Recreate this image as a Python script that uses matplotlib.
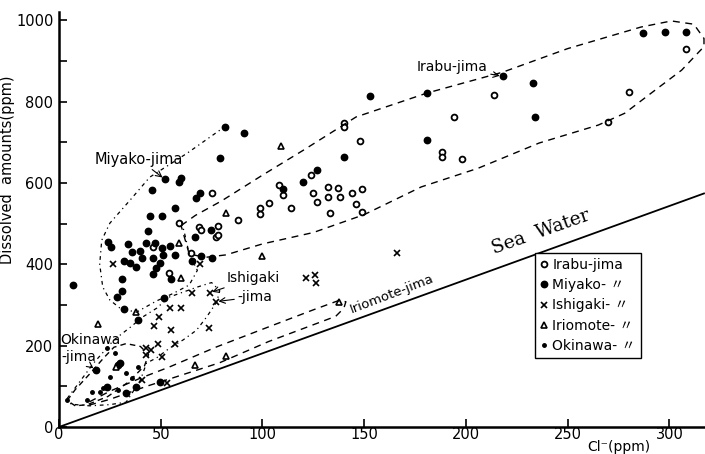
import numpy as np
import matplotlib.pyplot as plt
from matplotlib.lines import Line2D

# =========================
# Data: Cl- (ppm) vs dissolved amounts (ppm)
# =========================
irabu_cl = [75, 69, 70, 78, 77, 78, 88, 99, 99, 103, 108, 110, 114, 124, 125, 127, 132, 137,
            132, 138, 144, 146, 133, 140, 140, 148, 149, 149, 188, 188, 198, 194, 214, 270,
            280, 308, 59, 46, 54, 65]
irabu_td = [575, 491, 484, 494, 467, 472, 509, 538, 523, 550, 595, 570, 538, 619, 575, 553, 590, 587,
            565, 565, 575, 548, 525, 747, 737, 703, 585, 528, 676, 663, 658, 762, 816, 749,
            824, 929, 501, 442, 378, 427]

miyako_cl = [81.5, 91, 79, 52, 59, 60, 45.5, 67.5, 69.5, 57, 44.6, 50.5, 43.6, 24, 25.5, 34, 42.6,
             47, 50.5, 54.4, 36, 40, 41, 46, 51, 57, 32, 35, 38, 49.5, 31, 47.5, 46, 55, 31, 28.5,
             7, 51.5, 32, 39, 65.5, 70, 75, 67, 74.5, 110, 120, 127, 140, 153, 181, 218, 233, 234,
             181, 287, 298, 308, 18, 29, 23.5, 33, 38, 49.6, 30]
miyako_td = [737, 722, 661, 609, 602, 612, 582, 562, 576, 538, 518, 518, 481, 455, 442, 449, 452,
             452, 440, 445, 430, 432, 415, 415, 422, 422, 408, 403, 393, 403, 364, 391, 376, 364, 334, 319,
             350, 317, 290, 262, 408, 420, 415, 467, 484, 585, 602, 631, 663, 813, 821, 862, 845, 761,
             705, 968, 971, 971, 140, 152, 98, 84, 98, 110, 157]

ishigaki_cl = [26.5, 69.5, 65.5, 54.4, 60, 49, 46.5, 55, 73.5, 121.6, 126, 126.5, 57, 48.5, 50.5,
               43, 45, 41, 53, 74, 77, 166, 43]
ishigaki_td = [400, 400, 329, 292, 292, 270, 248, 238, 243, 366, 373, 354, 205, 204, 172,
               177, 189, 115, 108, 330, 308, 428, 194]

iriomote_cl = [109, 82, 59, 60, 38, 19, 100, 137.8, 66.7, 82, 28]
iriomote_td = [690, 526, 452, 366, 283, 253, 420, 307, 152, 174, 147]

okinawa_cl = [23.5, 27.5, 25, 21.6, 20, 16, 13.6, 29, 4, 36, 33, 39]
okinawa_td = [194, 182, 123, 96, 86, 86, 66, 91, 66, 120, 133, 147]

# sea water dilution line
sea_cl = [0, 317]
sea_td = [0, 574]

# hand-drawn group outlines (data coords)
irabu_out_x = [60, 67, 80, 100, 120, 146, 181, 218, 250, 286, 301, 312, 317,
               317, 306, 293, 278, 265, 236, 206, 178, 150, 125, 100, 82, 72, 64, 60]
irabu_out_y = [495, 520, 556, 619, 680, 762, 821, 872, 930, 983, 998, 990, 955,
               935, 877, 828, 771, 742, 698, 636, 590, 522, 478, 450, 423, 417, 425, 495]
miyako_out_x = [82, 63, 44.6, 35, 25, 21, 20, 21.5, 25, 30, 38, 48, 56, 64, 68, 64, 62, 60]
miyako_out_y = [740, 673, 614, 558, 501, 459, 400, 344, 312, 292, 282, 310, 328, 349, 385, 425, 470, 509]
ishigaki_out_x = [4, 10, 17, 27, 35, 41, 48, 54, 68, 75, 79, 77.5, 72.5, 67.6, 61, 54.4, 48, 43, 40, 36, 33, 25, 15, 6, 4]
ishigaki_out_y = [70, 110, 157, 214, 245, 270, 292, 319, 344, 355, 335, 307, 270, 238, 214, 194, 170, 157, 115, 84, 61, 55, 52, 56, 70]
iriomote_out_x = [15, 25, 40, 54, 77.5, 103, 125, 137, 141, 140, 136, 103, 79, 58, 43, 25, 15, 15]
iriomote_out_y = [62, 88, 120, 147, 197, 246, 288, 310, 308, 292, 272, 210, 158, 124, 100, 68, 54, 62]
okinawa_out_x = [8, 4, 8, 15, 22, 27, 33, 40, 44, 42, 34, 24, 14, 8]
okinawa_out_y = [52, 65, 92, 130, 170, 196, 205, 198, 178, 150, 110, 75, 55, 52]

legend_labels = ["Irabu-jima", "Miyako- 〃", "Ishigaki- 〃", "Iriomote- 〃", "Okinawa- 〃"]

# =========================
# Figure
# =========================
plt.rcParams['font.family'] = ['DejaVu Sans', 'Noto Sans CJK JP']
fig = plt.figure(figsize=(7.05, 4.54), dpi=100)
ax = fig.add_axes([59 / 705, 27 / 454, 646 / 705, 415 / 454])

k = dict(linestyle='none', color='black')
ax.plot(irabu_cl, irabu_td, marker='o', ms=4.2, mfc='white', mec='black', mew=1.3, **k)
ax.plot(miyako_cl, miyako_td, marker='o', ms=4.6, mfc='black', mec='black', **k)
ax.plot(ishigaki_cl, ishigaki_td, marker='x', ms=3.8, mew=1.2, **k)
ax.plot(iriomote_cl, iriomote_td, marker='^', ms=5, mfc='white', mec='black', mew=1.2, **k)
ax.plot(okinawa_cl, okinawa_td, marker='.', ms=5, **k)

ax.plot(sea_cl, sea_td, color='black', lw=1.3)

ax.plot(irabu_out_x, irabu_out_y, color='black', lw=1.0, dashes=(5, 4))
ax.plot(miyako_out_x, miyako_out_y, color='black', lw=0.9, dashes=(3, 3, 1, 3))
ax.plot(ishigaki_out_x, ishigaki_out_y, color='black', lw=0.9, dashes=(3, 3, 1, 3))
ax.plot(iriomote_out_x, iriomote_out_y, color='black', lw=1.0, dashes=(5, 4))
ax.plot(okinawa_out_x, okinawa_out_y, color='black', lw=1.0, dashes=(4, 3))

# group labels
arrow = dict(arrowstyle='->', color='black', lw=0.8, shrinkA=0, shrinkB=2)
ax.annotate("Miyako-jima", xy=(52, 609), xytext=(17.5, 658), fontsize=10.5,
            va='center', ha='left', arrowprops=arrow)
ax.annotate("Irabu-jima", xy=(218, 862), xytext=(176, 884), fontsize=10,
            va='center', ha='left', arrowprops=arrow)
ax.annotate("Ishigaki", xy=(74, 330), xytext=(82.5, 366), fontsize=10,
            va='center', ha='left', arrowprops=arrow)
ax.annotate("-jima", xy=(77, 308), xytext=(87.5, 320), fontsize=10,
            va='center', ha='left', arrowprops=arrow)
ax.text(0.5, 214, "Okinawa", fontsize=10, va='center', ha='left')
ax.annotate("-jima", xy=(18, 140), xytext=(1, 172), fontsize=10,
            va='center', ha='left', arrowprops=arrow)
ax.text(163.6, 327, "Iriomote-jima", fontsize=9.5, rotation=21,
        ha='center', va='center', rotation_mode='anchor')
ax.text(237, 478, "Sea  Water", fontsize=13.5, family='DejaVu Serif', rotation=19.5,
        ha='center', va='center', rotation_mode='anchor')

# legend
handles = [
    Line2D([], [], marker='o', ms=4.2, mfc='white', mec='black', mew=1.3, **k),
    Line2D([], [], marker='o', ms=4.6, mfc='black', mec='black', **k),
    Line2D([], [], marker='x', ms=3.8, mew=1.2, **k),
    Line2D([], [], marker='^', ms=5, mfc='white', mec='black', mew=1.2, **k),
    Line2D([], [], marker='.', ms=5, **k),
]
leg = ax.legend(handles, legend_labels, loc='upper left', bbox_to_anchor=(0.737, 0.419),
                fontsize=10, handlelength=0.6, handletextpad=0.3, borderpad=0.35,
                labelspacing=0.45, fancybox=False, framealpha=1, borderaxespad=0)
leg.get_frame().set_edgecolor('black')
leg.get_frame().set_linewidth(1.0)

# axes
ax.set_xlim(0, 317.5)
ax.set_ylim(0, 1020)
ax.set_xticks(np.arange(0, 301, 50))
ax.set_yticks(np.arange(0, 1001, 200))
ax.set_yticks(np.arange(100, 1000, 200), minor=True)
ax.tick_params(direction='in', length=6, width=1.2, labelsize=10.5)
ax.tick_params(axis='y', pad=4)
ax.tick_params(axis='x', pad=0)
ax.tick_params(which='minor', direction='in', length=6, width=1.2)
for s in ['top', 'right']:
    ax.spines[s].set_visible(False)
for s in ['left', 'bottom']:
    ax.spines[s].set_linewidth(1.8)

ax.set_ylabel("Dissolved  amounts(ppm)", fontsize=10.5)
ax.yaxis.set_label_coords(-0.068, 0.62)
ax.text(0.866, -0.047, "Cl⁻(ppm)", transform=ax.transAxes, fontsize=10,
        ha='center', va='center')

fig.savefig("out.png", dpi=100)
